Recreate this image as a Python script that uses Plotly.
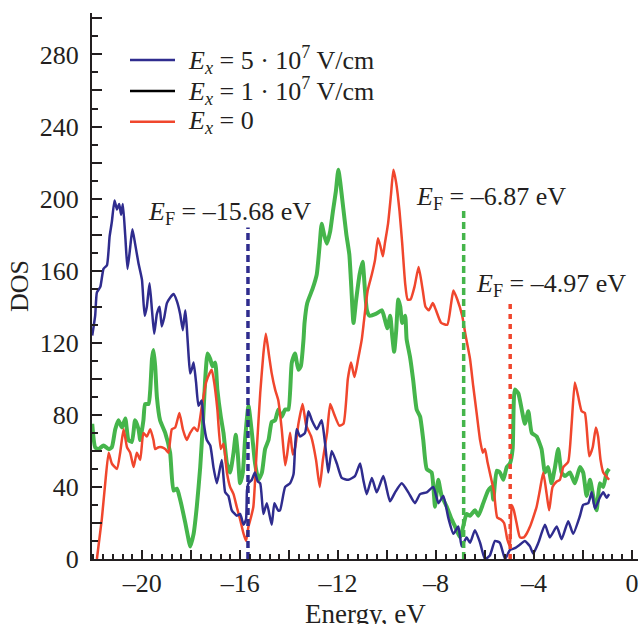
import plotly.graph_objects as go

# ---- density of states, three field strengths ----
energy_5e7 = [-22.04, -21.92, -21.85, -21.71, -21.58, -21.44, -21.33, -21.24, -21.13, -21.03,
              -20.94, -20.86, -20.79, -20.69, -20.60, -20.49, -20.40, -20.29, -20.15, -20.01,
              -19.90, -19.81, -19.70, -19.60, -19.51, -19.40, -19.29, -19.20, -19.10, -18.99,
              -18.86, -18.72, -18.58, -18.45, -18.34, -18.24, -18.18, -18.10, -18.04, -17.96,
              -17.90, -17.80, -17.70, -17.57, -17.50, -17.36, -17.22, -17.09, -16.95, -16.75,
              -16.61, -16.48, -16.34, -16.13, -16.00, -15.86, -15.76, -15.72, -15.66, -15.52,
              -15.40, -15.28, -15.18, -15.05, -14.91, -14.71, -14.60, -14.45, -14.37, -14.16,
              -13.96, -13.82, -13.76, -13.69, -13.55, -13.35, -13.21, -13.07, -12.87, -12.67,
              -12.53, -12.40, -12.26, -12.05, -11.85, -11.58, -11.31, -11.10, -10.97, -10.83,
              -10.62, -10.42, -10.15, -9.88, -9.67, -9.40, -9.13, -8.86, -8.65, -8.38,
              -8.11, -7.90, -7.70, -7.50, -7.29, -7.09, -6.95, -6.75, -6.61, -6.41,
              -6.20, -6.00, -5.80, -5.59, -5.39, -5.18, -4.98, -4.78, -4.57, -4.37,
              -4.16, -4.03, -3.82, -3.55, -3.35, -3.07, -2.87, -2.60, -2.40, -2.12,
              -1.99, -1.78, -1.64, -1.51, -1.31, -1.17, -1.03, -0.93]
dos_5e7 = [124, 135, 148, 151, 161, 163, 179, 187, 199, 194,
           197, 191, 197, 179, 161, 173, 183, 175, 164, 155,
           135, 140, 153, 138, 125, 136, 140, 129, 134, 142,
           145, 147, 143, 136, 127, 138, 129, 112, 103, 106,
           109, 98, 85, 88, 77, 66, 63, 51, 42, 55,
           37, 35, 27, 24, 25, 19, 22, 38, 42, 44,
           48, 43, 42, 25, 31, 19, 31, 27, 27, 40,
           42, 47, 61, 72, 68, 70, 82, 77, 72, 77,
           64, 48, 60, 53, 45, 44, 46, 53, 44, 36,
           45, 37, 46, 32, 37, 42, 37, 31, 36, 37,
           40, 31, 35, 23, 14, 18, 7, 12, 9, 16,
           9, 0, 2, 10, 9, 0, 5, 6, 8, 10,
           7, 3, 9, 19, 12, 18, 11, 21, 14, 24,
           30, 31, 37, 28, 34, 37, 34, 36]

energy_1e7 = [-22.04, -21.92, -21.78, -21.58, -21.37, -21.24, -21.10, -20.97, -20.83, -20.69,
              -20.56, -20.42, -20.29, -20.15, -20.08, -19.95, -19.88, -19.74, -19.67, -19.60,
              -19.54, -19.47, -19.40, -19.27, -19.06, -18.86, -18.72, -18.58, -18.45, -18.24,
              -18.11, -18.04, -17.90, -17.77, -17.63, -17.52, -17.43, -17.33, -17.22, -17.13,
              -17.02, -16.93, -16.79, -16.68, -16.54, -16.41, -16.27, -16.18, -16.10, -16.00,
              -15.89, -15.80, -15.66, -15.52, -15.39, -15.25, -15.11, -14.98, -14.84, -14.71,
              -14.57, -14.44, -14.30, -14.16, -14.03, -13.89, -13.76, -13.62, -13.52, -13.41,
              -13.37, -13.26, -13.04, -12.87, -12.76, -12.67, -12.57, -12.46, -12.32, -12.21,
              -12.09, -11.99, -11.91, -11.79, -11.66, -11.54, -11.46, -11.37, -11.26, -11.12,
              -11.00, -10.90, -10.82, -10.71, -10.46, -10.21, -10.09, -9.99, -9.87, -9.79,
              -9.71, -9.63, -9.54, -9.46, -9.38, -9.26, -9.20, -9.06, -8.93, -8.79,
              -8.65, -8.52, -8.38, -8.18, -8.04, -7.91, -7.77, -7.56, -7.36, -7.22,
              -7.02, -6.89, -6.75, -6.61, -6.41, -6.27, -6.07, -5.87, -5.73, -5.66,
              -5.52, -5.39, -5.25, -5.11, -4.98, -4.87, -4.78, -4.64, -4.50, -4.37,
              -4.23, -4.09, -3.89, -3.69, -3.55, -3.42, -3.28, -3.14, -3.01, -2.87,
              -2.73, -2.53, -2.33, -2.12, -1.99, -1.85, -1.71, -1.58, -1.44, -1.31,
              -1.17, -1.03, -0.93]
dos_1e7 = [75, 62, 61, 63, 61, 62, 72, 77, 73, 78,
           66, 65, 77, 72, 66, 77, 86, 86, 94, 111,
           116, 107, 90, 77, 70, 59, 38, 39, 33, 20,
           11, 7, 14, 29, 51, 75, 99, 114, 111, 107,
           109, 94, 79, 70, 53, 48, 59, 69, 59, 42,
           48, 66, 85, 70, 53, 44, 48, 61, 66, 76,
           77, 83, 79, 83, 83, 109, 114, 105, 107, 122,
           131, 142, 150, 158, 173, 186, 180, 175, 182, 193,
           204, 216, 209, 195, 180, 169, 151, 131, 144, 158,
           165, 149, 138, 135, 136, 138, 133, 128, 135, 124,
           115, 126, 144, 140, 131, 135, 122, 112, 99, 83,
           79, 66, 50, 48, 29, 44, 35, 29, 22, 18,
           12, 18, 25, 24, 27, 24, 31, 38, 40, 33,
           49, 48, 44, 51, 53, 61, 94, 92, 83, 75,
           82, 70, 68, 61, 48, 51, 42, 51, 61, 48,
           46, 48, 42, 51, 48, 35, 44, 35, 27, 42,
           40, 48, 50]

energy_0 = [-21.85, -21.65, -21.51, -21.37, -21.24, -21.03, -20.90, -20.76, -20.62, -20.49,
            -20.35, -20.22, -20.08, -19.95, -19.81, -19.67, -19.54, -19.47, -19.33, -19.20,
            -19.06, -18.93, -18.79, -18.65, -18.48, -18.34, -18.18, -18.04, -17.88, -17.74,
            -17.56, -17.39, -17.25, -17.16, -17.06, -16.93, -16.79, -16.68, -16.54, -16.41,
            -16.27, -16.14, -16.00, -15.86, -15.76, -15.66, -15.56, -15.46, -15.32, -15.18,
            -15.05, -14.95, -14.82, -14.71, -14.57, -14.44, -14.30, -14.16, -14.08, -13.96,
            -13.85, -13.75, -13.62, -13.45, -13.30, -13.10, -12.90, -12.75, -12.62, -12.45,
            -12.32, -12.15, -11.95, -11.78, -11.60, -11.47, -11.33, -11.18, -11.03, -10.96,
            -10.79, -10.62, -10.49, -10.37, -10.26, -10.17, -10.09, -9.96, -9.84, -9.74,
            -9.63, -9.49, -9.38, -9.26, -9.16, -9.04, -8.88, -8.71, -8.54, -8.43,
            -8.29, -8.13, -8.00, -7.79, -7.54, -7.38, -7.29, -7.13, -6.93, -6.79,
            -6.61, -6.48, -6.34, -6.20, -6.09, -6.00, -5.90, -5.77, -5.63, -5.50,
            -5.36, -5.22, -5.09, -4.98, -4.91, -4.82, -4.71, -4.57, -4.41, -4.30,
            -4.16, -4.03, -3.89, -3.76, -3.62, -3.48, -3.38, -3.24, -3.07, -2.94,
            -2.80, -2.60, -2.46, -2.33, -2.19, -2.05, -1.92, -1.74, -1.60, -1.47,
            -1.38, -1.28, -1.17, -1.06, -0.93]
dos_0 = [0, 22, 42, 59, 53, 50, 59, 72, 62, 59,
         51, 59, 55, 70, 68, 72, 66, 61, 62, 62,
         61, 59, 72, 73, 81, 72, 66, 70, 73, 71,
         85, 98, 103, 105, 98, 83, 61, 64, 48, 40,
         36, 29, 22, 14, 10, 18, 23, 29, 61, 92,
         114, 125, 113, 103, 94, 88, 72, 52, 58, 70,
         58, 62, 75, 86, 74, 68, 55, 40, 55, 70,
         86, 80, 74, 75, 100, 109, 101, 111, 122, 130,
         149, 158, 166, 178, 173, 168, 175, 186, 202, 216,
         209, 193, 175, 153, 144, 144, 151, 162, 149, 140,
         138, 142, 138, 131, 130, 142, 149, 144, 135, 124,
         111, 96, 81, 66, 59, 61, 54, 46, 37, 23,
         22, 20, 11, 7, 30, 27, 20, 12, 12, 14,
         18, 23, 29, 38, 48, 36, 27, 40, 43, 44,
         51, 54, 75, 98, 90, 82, 81, 57, 62, 73,
         68, 55, 48, 46, 44]

# Fermi levels and the height of their marker lines
fermi_levels = [-15.68, -6.87, -4.97]
fermi_tops = [184, 194, 143]

legend_labels = ["<i>E</i><sub><i>x</i></sub> = 5 · 10<sup>7</sup> V/cm",
                 "<i>E</i><sub><i>x</i></sub> = 1 · 10<sup>7</sup> V/cm",
                 "<i>E</i><sub><i>x</i></sub> = 0"]

x_tick_vals = [-20, -18, -16, -14, -12, -10, -8, -6, -4, -2, 0]
x_tick_text = ["–20", "", "–16", "", "–12", "", "–8", "", "–4", "", "0"]
y_tick_vals = list(range(0, 301, 20))
y_tick_text = [str(v) if v % 40 == 0 else "" for v in y_tick_vals]

BLUE = "#2f2c8e"
GREEN = "#45b54b"
RED = "#f0462d"
INK = "#231f20"
FONT = "Liberation Serif"

W, H = 640, 624
ML, MR, MT, MB = 92, 2, 13, 65
PW, PH = W - ML - MR, H - MT - MB


def px(xp):
    return (xp - ML) / PW


def py(yp):
    return (H - MB - yp) / PH


fig = go.Figure()
fig.add_trace(go.Scatter(x=energy_1e7, y=dos_1e7, mode="lines",
                         line=dict(color=GREEN, width=4, shape="spline", smoothing=0.5),
                         showlegend=False))
fig.add_trace(go.Scatter(x=energy_0, y=dos_0, mode="lines",
                         line=dict(color=RED, width=2.5, shape="spline", smoothing=0.5),
                         showlegend=False))
fig.add_trace(go.Scatter(x=energy_5e7, y=dos_5e7, mode="lines",
                         line=dict(color=BLUE, width=2.5, shape="spline", smoothing=0.5),
                         showlegend=False))

fermi_colors = [BLUE, GREEN, RED]
fermi_dash = ["7px,4px", "7px,4px", "5px,5px"]
for ef, top, col, dash in zip(fermi_levels, fermi_tops, fermi_colors, fermi_dash):
    fig.add_trace(go.Scatter(x=[ef, ef], y=[0, top], mode="lines",
                             line=dict(color=col, width=3.5, dash=dash),
                             showlegend=False))

# Fermi level labels
label_pos = [(-19.85, 192), (-8.9, 200.5), (-6.45, 152)]
for ef, (lx, ly) in zip(fermi_levels, label_pos):
    fig.add_annotation(x=lx, y=ly, xref="x", yref="y", xanchor="left", yanchor="middle",
                       text="<i>E</i><sub>F</sub> = –%.2f eV" % abs(ef), showarrow=False,
                       font=dict(family=FONT, size=26, color=INK))

# key: line samples and labels
key_colors = [BLUE, "#000000", RED]
key_rows = [60, 91, 121.7]
for lab, col, row in zip(legend_labels, key_colors, key_rows):
    fig.add_shape(type="line", xref="paper", yref="paper",
                  x0=px(130), x1=px(175), y0=py(row), y1=py(row),
                  line=dict(color=col, width=2.5))
    fig.add_annotation(x=px(186), y=py(row), xref="paper", yref="paper",
                       xanchor="left", yanchor="middle", text=lab, showarrow=False,
                       font=dict(family=FONT, size=26, color=INK))

# x-axis caption sits low, partly past the bottom edge
fig.add_annotation(x=0.5, y=py(614), xref="paper", yref="paper", xanchor="center",
                   yanchor="middle", text="Energy, eV", showarrow=False,
                   font=dict(family=FONT, size=27, color=INK))

axis_common = dict(showline=True, linewidth=2, linecolor=INK, showgrid=False, zeroline=False,
                   ticks="inside", tickcolor=INK, tickwidth=1.5,
                   tickfont=dict(family=FONT, size=26, color=INK), tickmode="array")

fig.update_xaxes(range=[-22.05, 0.25], tickvals=x_tick_vals, ticktext=x_tick_text, ticklen=9,
                 minor=dict(dtick=0.4, tick0=0, ticks="inside", ticklen=5, tickwidth=1.5,
                            tickcolor=INK),
                 **axis_common)
fig.update_yaxes(range=[0, 303], tickvals=y_tick_vals, ticktext=y_tick_text, ticklen=10,
                 minor=dict(dtick=10, tick0=0, ticks="inside", ticklen=6, tickwidth=1.5,
                            tickcolor=INK),
                 ticklabelstandoff=6,
                 title=dict(text="DOS", font=dict(family=FONT, size=26, color=INK), standoff=4),
                 **axis_common)

fig.update_layout(width=W, height=H, margin=dict(l=ML, r=MR, t=MT, b=MB, autoexpand=False),
                  plot_bgcolor="white", paper_bgcolor="white",
                  font=dict(family=FONT, size=26, color=INK))

fig.write_html("out.html")
